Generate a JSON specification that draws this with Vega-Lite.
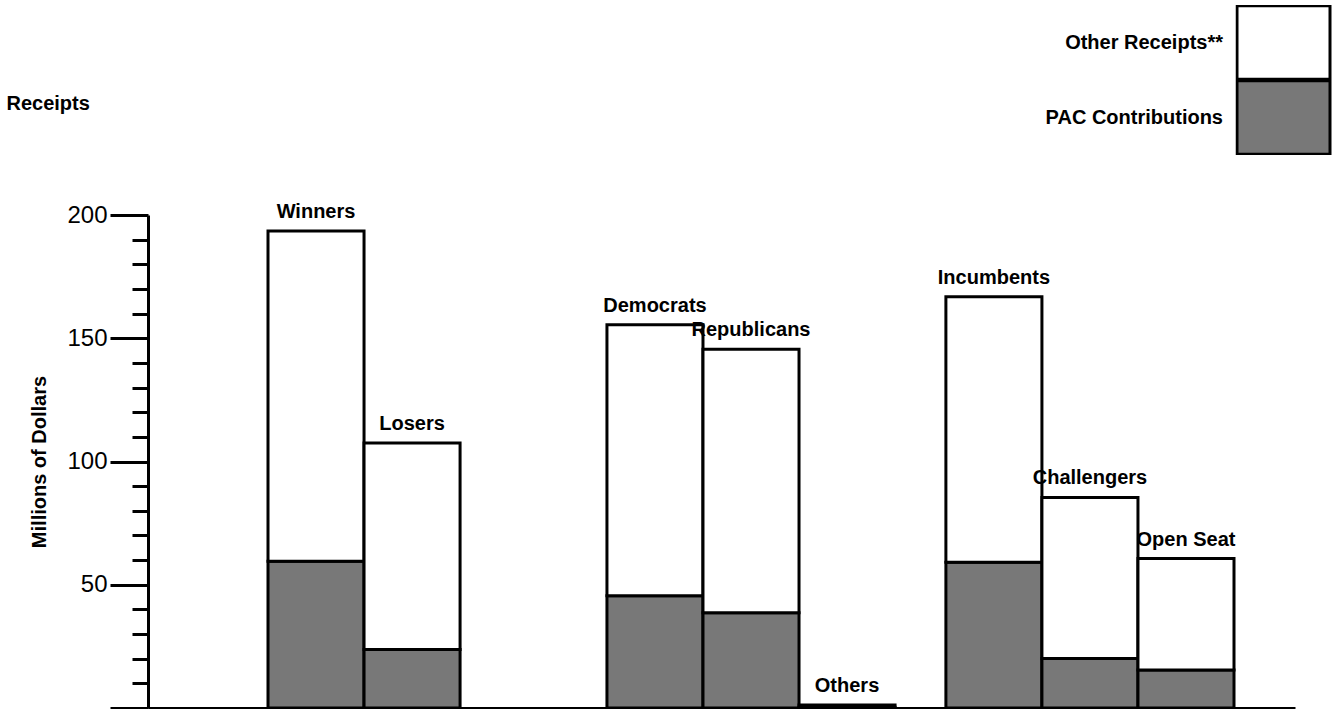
{
  "$schema": "https://vega.github.io/schema/vega-lite/v6.json",
  "autosize": {"type": "none"},
  "padding": {"left": 148, "top": 215, "right": 41, "bottom": 1},
  "width": 1147,
  "height": 493,
  "background": "white",
  "config": {
    "view": {"stroke": null},
    "axis": {"grid": false},
    "font": "Liberation Sans"
  },
  "data": {
    "values": [
      {"group": "Outcome", "name": "Winners", "pac": 59.5, "other": 134.0},
      {"group": "Outcome", "name": "Losers", "pac": 23.7, "other": 83.8},
      {"group": "Party", "name": "Democrats", "pac": 45.5, "other": 110.0},
      {"group": "Party", "name": "Republicans", "pac": 38.6, "other": 106.9},
      {"group": "Party", "name": "Others", "pac": 0.3, "other": 0.9},
      {"group": "Status", "name": "Incumbents", "pac": 59.1, "other": 107.7},
      {"group": "Status", "name": "Challengers", "pac": 20.1, "other": 65.3},
      {"group": "Status", "name": "Open Seat", "pac": 15.4, "other": 45.2}
    ]
  },
  "transform": [
    {"window": [{"op": "row_number", "as": "rank"}], "groupby": ["group"]},
    {"fold": ["pac", "other"], "as": ["type", "value"]}
  ],
  "encoding": {
    "x": {
      "field": "group",
      "type": "nominal",
      "scale": {"domain": ["Outcome", "Party", "Status"], "paddingInner": 0.15, "paddingOuter": 0.267, "align": 0.663},
      "axis": {
        "labels": false,
        "ticks": false,
        "domain": true,
        "domainColor": "black",
        "domainWidth": 3,
        "title": "Receipts",
        "titleX": -142,
        "titleY": -605,
        "titleAngle": 0,
        "titleAlign": "left",
        "titleBaseline": "middle",
        "titleFont": "Liberation Sans",
        "titleFontSize": 20,
        "titleFontWeight": "bold",
        "titleColor": "black"
      }
    },
    "xOffset": {
      "field": "rank",
      "type": "ordinal",
      "scale": {"domain": [1, 2, 3], "paddingInner": 0, "paddingOuter": 0}
    }
  },
  "layer": [
    {
      "mark": {"type": "bar", "stroke": "black", "strokeWidth": 3},
      "encoding": {
        "y": {
          "field": "value",
          "type": "quantitative",
          "aggregate": "sum",
          "stack": "zero",
          "scale": {"domain": [0, 200], "nice": false},
          "axis": {
            "orient": "left",
            "values": [0, 50, 100, 150, 200],
            "tickSize": 38,
            "tickWidth": 3,
            "tickColor": "black",
            "domainColor": "black",
            "domainWidth": 3,
            "labelOverlap": false,
            "labelExpr": "datum.value > 0 ? datum.label : ''",
            "labelFont": "Liberation Sans",
            "labelFontSize": 24,
            "labelColor": "black",
            "labelPadding": 3,
            "title": "Millions of Dollars",
            "titleFont": "Liberation Sans",
            "titleFontSize": 20,
            "titleFontWeight": "bold",
            "titleColor": "black",
            "titlePadding": 17
          }
        },
        "color": {
          "field": "type",
          "type": "nominal",
          "scale": {"domain": ["other", "pac"], "range": ["#ffffff", "#787878"]},
          "legend": {
            "orient": "none",
            "legendX": 1087.5,
            "legendY": -210,
            "direction": "vertical",
            "title": null,
            "padding": 0,
            "rowPadding": 0,
            "clipHeight": 75,
            "symbolOffset": 9,
            "symbolType": "M-1.24,-0.98H1.24V0.98H-1.24Z",
            "symbolSize": 5625,
            "symbolStrokeColor": "black",
            "symbolStrokeWidth": 3,
            "symbolOpacity": 1,
            "labelAlign": "right",
            "labelBaseline": "middle",
            "labelOffset": -99.5,
            "labelLimit": 400,
            "labelFont": "Liberation Sans",
            "labelFontSize": 20,
            "labelFontWeight": "bold",
            "labelColor": "black",
            "labelExpr": "datum.value == 'other' ? 'Other Receipts**' : 'PAC Contributions'",
            "encode": {
              "entries": {"update": {"width": {"value": 120}, "height": {"value": 75}}}
            }
          }
        },
        "order": {"field": "type", "sort": "descending"}
      }
    },
    {
      "mark": {"type": "text", "align": "center", "baseline": "alphabetic", "dy": -13, "font": "Liberation Sans", "fontSize": 20, "fontWeight": "bold", "color": "black"},
      "encoding": {
        "y": {
          "field": "value",
          "type": "quantitative",
          "aggregate": "sum",
          "stack": null,
          "axis": {
            "orient": "left",
            "values": [10, 20, 30, 40, 60, 70, 80, 90, 110, 120, 130, 140, 160, 170, 180, 190],
            "tickSize": 16,
            "tickWidth": 3,
            "tickColor": "black",
            "labels": false,
            "domain": false,
            "title": null
          }
        },
        "text": {"field": "name", "type": "nominal"}
      }
    }
  ],
  "resolve": {"axis": {"y": "independent"}}
}
